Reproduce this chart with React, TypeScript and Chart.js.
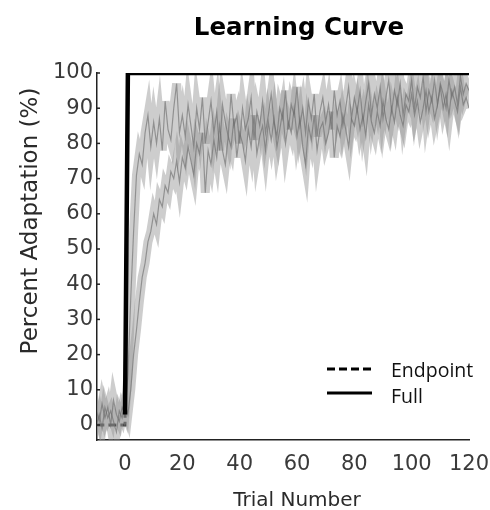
import { useEffect, useRef } from "react";
import { Chart, registerables } from "chart.js";

Chart.register(...registerables);

// Trial numbering of the per-trial series starts here (baseline trials are negative)
const TRIAL_START = -10;

// Faster-adapting group, one value per trial (-10 .. 120)
const FAST = [
  4, 1, 6, 2, 5, 0, 7, 3, 1, 5, 3,
  14, 36, 55, 71, 77, 74, 83, 88, 79, 86,
  80, 87, 78, 92, 84, 81, 90, 97, 83, 88,
  82, 91, 85, 79, 90, 84, 93, 80, 86, 92,
  83, 89, 78, 91, 86, 82, 94, 85, 88, 80,
  90, 84, 87, 93, 81, 89, 85, 92, 83, 88,
  94, 86, 82, 90, 87, 95, 84, 91, 88, 96,
  85, 90, 83, 92, 87, 94, 82, 89, 93, 86,
  91, 84, 95, 88, 92, 85, 90, 96, 87, 93,
  89, 95, 86, 92, 97, 88, 94, 90, 96, 87,
  93, 98, 89, 95, 91, 97, 88, 94, 92, 98,
  90, 96, 93, 99, 89, 95, 92, 98, 91, 97,
  94, 90, 98, 93, 96, 91, 99, 94, 97, 95,
];

// Slower-adapting group, one value per trial (-10 .. 120)
const SLOW = [
  0, 3, -1, 5, 2, 4, 1, -2, 4, 2, 6,
  3, 10, 20, 27, 35, 42, 46, 52, 55, 60,
  57, 64, 62, 68, 66, 72, 70, 75, 69, 76,
  73, 79, 75, 71, 80, 77, 83, 66, 78, 74,
  81, 76, 85, 78, 74, 82, 79, 87, 76, 83,
  80, 75, 84, 79, 88, 77, 82, 85, 78, 86,
  81, 87, 79, 84, 89, 80, 86, 83, 90, 82,
  87, 79, 74, 85, 81, 88, 78, 84, 86, 80,
  83, 89, 76, 85, 82, 88, 84, 79, 87, 85,
  90, 84, 88, 82, 91, 86, 83, 89, 85, 92,
  87, 84, 90, 86, 93, 88, 85, 91, 89, 94,
  88, 92, 86, 90, 95, 89, 93, 87, 91, 96,
  90, 94, 88, 95, 92, 89, 96, 91, 93, 90,
];

// Ideal adaptation profiles (step at the first perturbed trial)
const ENDPOINT_TRIALS = [-10, 0, 1, 120];
const ENDPOINT = [0, 0, 100, 100];
const FULL_TRIALS = [0, 1, 120];
const FULL = [3, 100, 100];

const X_TICKS = [0, 20, 40, 60, 80, 100, 120];
const Y_TICKS = [0, 10, 20, 30, 40, 50, 60, 70, 80, 90, 100];

const TITLE = "Learning Curve";
const X_TITLE = "Trial Number";
const Y_TITLE = "Percent Adaptation (%)";
const LEGEND_LABELS = ["Endpoint", "Full"];

const perTrial = (vals: number[]) => vals.map((y, i) => ({ x: TRIAL_START + i, y }));
const paired = (xs: number[], ys: number[]) => xs.map((x, i) => ({ x, y: ys[i] }));

const decorations = {
  id: "decorations",
  afterDatasetsDraw(chart: any) {
    const { ctx, chartArea, scales } = chart;
    ctx.save();
    // small inward tick marks on the y axis
    ctx.strokeStyle = "#222";
    ctx.lineWidth = 1.5;
    for (const v of Y_TICKS) {
      const y = scales.y.getPixelForValue(v);
      ctx.beginPath();
      ctx.moveTo(chartArea.left, y);
      ctx.lineTo(chartArea.left + 3, y);
      ctx.stroke();
    }
    ctx.restore();
  },
  afterDraw(chart: any) {
    const { ctx, chartArea } = chart;
    ctx.save();
    // chart title
    ctx.fillStyle = "#000";
    ctx.font = "bold 24.5px 'DejaVu Sans'";
    ctx.textAlign = "center";
    ctx.textBaseline = "alphabetic";
    ctx.fillText(TITLE, chartArea.left + 202, 35);

    // axis titles
    ctx.fillStyle = "#2a2a2a";
    ctx.font = "20px 'DejaVu Sans'";
    ctx.fillText(X_TITLE, chartArea.left + 200, 506);

    ctx.save();
    ctx.font = "23px 'DejaVu Sans'";
    ctx.translate(37, 221);
    ctx.rotate(-Math.PI / 2);
    ctx.fillText(Y_TITLE, 0, 0);
    ctx.restore();

    // legend
    const lx0 = 327;
    const lx1 = 372;
    const rows = [369, 393];
    ctx.strokeStyle = "#000";
    ctx.lineWidth = 3;
    ctx.setLineDash([8, 4]);
    ctx.beginPath();
    ctx.moveTo(lx0, rows[0]);
    ctx.lineTo(lx1, rows[0]);
    ctx.stroke();
    ctx.setLineDash([]);
    ctx.beginPath();
    ctx.moveTo(lx0, rows[1]);
    ctx.lineTo(lx1, rows[1]);
    ctx.stroke();

    ctx.fillStyle = "#111";
    ctx.font = "19.5px 'Open Sans'";
    ctx.textAlign = "left";
    ctx.textBaseline = "alphabetic";
    ctx.fillText(LEGEND_LABELS[0], 391, 377);
    ctx.fillText(LEGEND_LABELS[1], 391, 403);
    ctx.restore();
  },
};

export default function App() {
  const canvasRef = useRef<HTMLCanvasElement | null>(null);

  useEffect(() => {
    if (!canvasRef.current) return;
    const halo = "rgba(150,150,150,0.48)";
    const core = "rgba(105,105,105,0.6)";
    const chart = new Chart(canvasRef.current, {
      type: "line",
      data: {
        datasets: [
          {
            label: "Full",
            data: paired(FULL_TRIALS, FULL),
            borderColor: "#000",
            borderWidth: 4.5,
            pointRadius: 0,
            order: 0,
          },
          {
            label: "fast",
            data: perTrial(FAST),
            borderColor: core,
            borderWidth: 1.2,
            pointRadius: 0,
            order: 1,
          },
          {
            label: "slow",
            data: perTrial(SLOW),
            borderColor: core,
            borderWidth: 1.2,
            pointRadius: 0,
            order: 1,
          },
          {
            label: "fast band",
            data: perTrial(FAST),
            borderColor: halo,
            borderWidth: 9,
            pointRadius: 0,
            order: 2,
          },
          {
            label: "slow band",
            data: perTrial(SLOW),
            borderColor: halo,
            borderWidth: 9,
            pointRadius: 0,
            order: 2,
          },
          {
            label: "Endpoint",
            data: paired(ENDPOINT_TRIALS, ENDPOINT),
            borderColor: "#000",
            borderWidth: 3,
            borderDash: [8, 4],
            pointRadius: 0,
            order: 3,
          },
        ],
      },
      options: {
        animation: false,
        responsive: true,
        maintainAspectRatio: false,
        layout: { padding: { top: 73, right: 21, left: 0, bottom: 0 } },
        plugins: {
          legend: { display: false },
          title: { display: false },
          tooltip: { enabled: false },
        },
        scales: {
          x: {
            type: "linear",
            min: -9.77,
            max: 120,
            grid: { display: true, drawOnChartArea: false, drawTicks: false },
            border: { display: true, color: "#222", width: 1.5 },
            ticks: {
              padding: 12,
              color: "#3a3a3a",
              font: { family: "'DejaVu Sans'", size: 21 },
              maxRotation: 0,
            },
            afterBuildTicks: (scale: any) => {
              scale.ticks = X_TICKS.map((value) => ({ value }));
            },
            afterFit: (scale: any) => {
              scale.height = 70;
              scale.paddingLeft = 0;
              scale.paddingRight = 0;
            },
          },
          y: {
            type: "linear",
            min: -4.26,
            max: 100,
            grid: { display: true, drawOnChartArea: false, drawTicks: false },
            border: { display: true, color: "#222", width: 1.5 },
            ticks: {
              padding: 4,
              color: "#3a3a3a",
              font: { family: "'DejaVu Sans'", size: 21 },
            },
            afterBuildTicks: (scale: any) => {
              scale.ticks = Y_TICKS.map((value) => ({ value }));
            },
            afterFit: (scale: any) => {
              scale.width = 97;
              scale.paddingTop = 0;
              scale.paddingBottom = 0;
            },
          },
        },
      },
      plugins: [decorations],
    });
    return () => chart.destroy();
  }, []);

  // The figure fills the whole window, so it is pinned to the viewport's corner
  return (
    <div style={{ position: "fixed", left: 0, top: 0, width: 490, height: 510 }}>
      <canvas ref={canvasRef} />
    </div>
  );
}
